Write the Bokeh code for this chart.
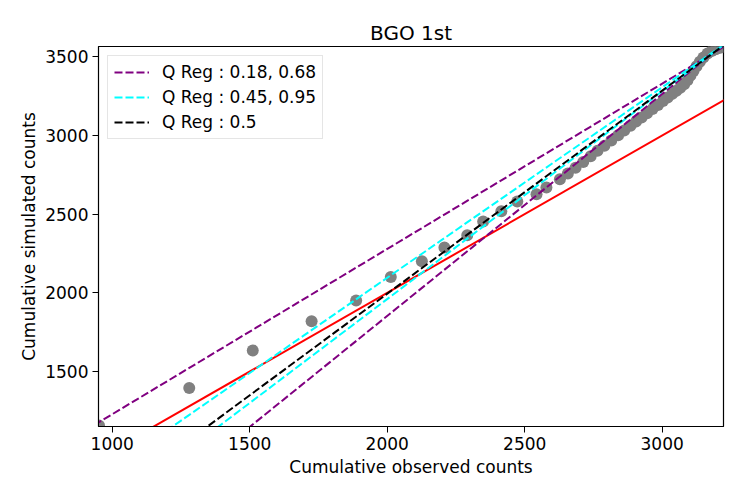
from bokeh.plotting import figure
from bokeh.models import Range1d, FixedTicker, Legend, LegendItem
from bokeh.embed import file_html
from bokeh.resources import INLINE
import numpy as np

# observed vs simulated cumulative counts
observed = [952, 1280, 1511, 1725, 1887, 2013, 2126, 2208, 2291, 2349, 2415, 2473,
            2543, 2579, 2628, 2657, 2685, 2713, 2740, 2765, 2790, 2815, 2840, 2862,
            2885, 2905, 2925, 2945, 2965, 2985, 3003, 3020, 3037, 3052, 3066, 3080,
            3092, 3103, 3114, 3125, 3137, 3150, 3165, 3180, 3195, 3212]
simulated = [1158, 1396, 1634, 1820, 1952, 2101, 2201, 2288, 2366, 2453, 2518, 2580,
             2627, 2669, 2722, 2758, 2795, 2832, 2868, 2902, 2935, 2968, 3001, 3031,
             3061, 3088, 3114, 3141, 3168, 3194, 3218, 3241, 3264, 3284, 3303, 3325,
             3350, 3380, 3410, 3440, 3468, 3495, 3520, 3537, 3548, 3557]

# regression lines: (slope, intercept)
identity_line = (1.0, 0.0)
q018 = (1.05, 179.0)
q068 = (1.41, -966.6)
q045 = (1.21, -324.0)
q095 = (1.32, -679.5)
q050 = (1.29, -585.6)

x_ticks = [1000, 1500, 2000, 2500, 3000]
y_ticks = [1500, 2000, 2500, 3000, 3500]
FONT = "DejaVu Sans"

p = figure(width=739, height=490, output_backend="svg", toolbar_location=None,
           x_range=Range1d(950, 3223), y_range=Range1d(1151, 3565),
           min_border_left=98, min_border_right=16, min_border_top=46,
           min_border_bottom=64)
p.title.text = "BGO 1st"
p.title.align = "center"
p.title.text_font = FONT
p.title.text_font_size = "20px"
p.title.text_font_style = "normal"
p.title.text_color = "black"
p.title.standoff = 4

p.grid.visible = False
p.outline_line_color = "black"
p.outline_line_width = 1.2
p.outline_line_alpha = 1

for ax, ticks in ((p.xaxis, x_ticks), (p.yaxis, y_ticks)):
    ax.ticker = FixedTicker(ticks=ticks)
    ax.minor_tick_line_color = None
    ax.major_tick_in = 0
    ax.major_tick_out = 6
    ax.major_tick_line_color = "black"
    ax.axis_line_color = "black"
    ax.major_label_text_font = FONT
    ax.major_label_text_font_size = "17px"
    ax.major_label_text_color = "black"
    ax.axis_label_text_font = FONT
    ax.axis_label_text_font_size = "17px"
    ax.axis_label_text_font_style = "normal"
    ax.axis_label_text_color = "black"
    ax.major_label_standoff = 4
p.xaxis.axis_label = "Cumulative observed counts"
p.yaxis.axis_label = "Cumulative simulated counts"
p.xaxis.axis_label_standoff = 4
p.yaxis.axis_label_standoff = 3

p.scatter(observed, simulated, size=12, color="grey", line_color=None)

xs = np.array([900.0, 3300.0])

def yl(c):
    return c[1] + c[0] * xs

p.line(xs, yl(identity_line), color="red", line_width=2)
r1 = p.line(xs, yl(q018), color="purple", line_width=2, line_dash="8 3")
p.line(xs, yl(q068), color="purple", line_width=2, line_dash="8 3")
r2 = p.line(xs, yl(q045), color="cyan", line_width=2, line_dash="8 3")
p.line(xs, yl(q095), color="cyan", line_width=2, line_dash="8 3")
r3 = p.line(xs, yl(q050), color="black", line_width=2, line_dash="8 3")

legend = Legend(items=[
    LegendItem(label="Q Reg : 0.18, 0.68", renderers=[r1]),
    LegendItem(label="Q Reg : 0.45, 0.95", renderers=[r2]),
    LegendItem(label="Q Reg : 0.5", renderers=[r3]),
], location="top_left")
legend.label_text_font = FONT
legend.label_text_font_size = "17px"
legend.label_text_color = "black"
legend.glyph_width = 35
legend.glyph_height = 20
legend.label_height = 20
legend.label_standoff = 13
legend.spacing = 5
legend.padding = 6
legend.margin = 9
legend.border_line_color = "#cccccc"
legend.border_line_width = 1
legend.background_fill_alpha = 0.8
p.add_layout(legend)

open("out.html", "w").write(file_html(p, INLINE))
